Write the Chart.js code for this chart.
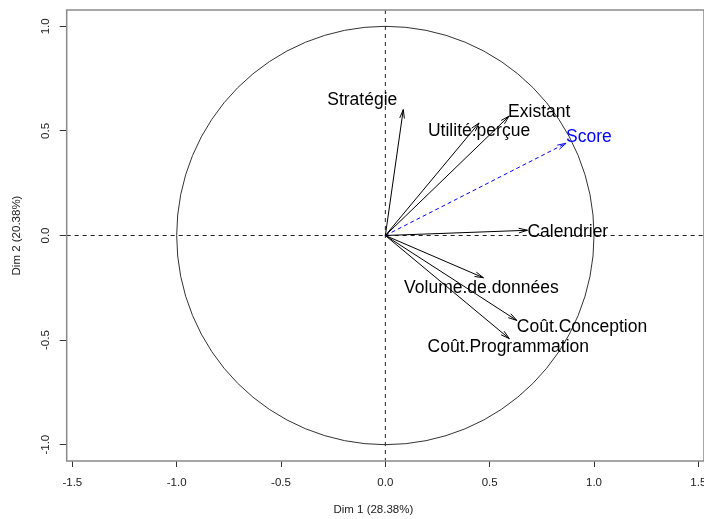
<!DOCTYPE html>
<html>
<head>
<meta charset="utf-8">
<script src="https://cdn.jsdelivr.net/npm/chart.js@4.4.1/dist/chart.umd.min.js"></script>
<style>
    html, body { margin: 0; padding: 0; background: #fff; overflow: hidden; }
    canvas { display: block; }
</style>
</head>
<body>
<canvas id="pcaCircle" width="720" height="519"></canvas>
<script>
// variables actives (coordonnées sur Dim 1 / Dim 2)
const variables = ["Stratégie", "Utilité.perçue", "Existant", "Calendrier", "Volume.de.données", "Coût.Conception", "Coût.Programmation"];
const dim1 = [0.086, 0.449, 0.593, 0.681, 0.470, 0.630, 0.594];
const dim2 = [0.602, 0.538, 0.571, 0.025, -0.202, -0.406, -0.493];

// variable supplémentaire
const supVariables = ["Score"];
const supDim1 = [0.866];
const supDim2 = [0.441];

const xTicks = [-1.5, -1.0, -0.5, 0.0, 0.5, 1.0, 1.5];
const yTicks = [-1.0, -0.5, 0.0, 0.5, 1.0];
const xTitle = "Dim 1 (28.38%)";
const yTitle = "Dim 2 (20.38%)";

// placement des étiquettes (pixels par rapport à la flèche)
const labelStyle = {
    "Stratégie": { align: "right", dx: -6, dy: -9 },
    "Utilité.perçue": { align: "center", dx: 0, dy: 8 },
    "Existant": { align: "left", dx: -1, dy: -4 },
    "Calendrier": { align: "left", dx: 0, dy: 2 },
    "Volume.de.données": { align: "center", dx: -2, dy: 10 },
    "Coût.Conception": { align: "left", dx: 0, dy: 7 },
    "Coût.Programmation": { align: "center", dx: -1, dy: 9 },
    "Score": { align: "left", dx: 0, dy: -6 }
};

const FONT = "'Liberation Sans', Arial, sans-serif";

const datasets = [];
variables.forEach((name, i) => {
    datasets.push({
        label: name,
        data: [{ x: 0, y: 0 }, { x: dim1[i], y: dim2[i] }],
        borderColor: "#000",
        borderWidth: 1,
        showLine: true,
        pointRadius: 0,
        textColor: "#000"
    });
});
supVariables.forEach((name, i) => {
    datasets.push({
        label: name,
        data: [{ x: 0, y: 0 }, { x: supDim1[i], y: supDim2[i] }],
        borderColor: "#0000ff",
        borderWidth: 1,
        borderDash: [4, 3],
        showLine: true,
        pointRadius: 0,
        textColor: "#0000ff"
    });
});

// cercle + axes en pointillés
const circlePlugin = {
    id: "circle",
    beforeDatasetsDraw(chart) {
        const { ctx, chartArea: a, scales: { x, y } } = chart;
        const cx = x.getPixelForValue(0);
        const cy = y.getPixelForValue(0);
        const rx = x.getPixelForValue(1) - cx;
        const ry = cy - y.getPixelForValue(1);
        ctx.save();
        ctx.strokeStyle = "#333";
        ctx.lineWidth = 1;
        ctx.beginPath();
        ctx.ellipse(cx, cy, rx, ry, 0, 0, Math.PI * 2);
        ctx.stroke();

        ctx.strokeStyle = "#222";
        ctx.setLineDash([4, 4]);
        ctx.beginPath();
        ctx.moveTo(a.left, cy);
        ctx.lineTo(a.right, cy);
        ctx.moveTo(cx, a.top);
        ctx.lineTo(cx, a.bottom);
        ctx.stroke();
        ctx.restore();
    }
};

// pointes de flèche et noms des variables
const arrowPlugin = {
    id: "arrows",
    afterDatasetsDraw(chart) {
        const ctx = chart.ctx;
        ctx.save();
        chart.data.datasets.forEach((ds, i) => {
            const pts = chart.getDatasetMeta(i).data;
            const p0 = pts[0], p1 = pts[1];
            const ang = Math.atan2(p1.y - p0.y, p1.x - p0.x);
            const len = 9, wing = 15 * Math.PI / 180;
            ctx.strokeStyle = ds.borderColor;
            ctx.lineWidth = 1;
            ctx.setLineDash([]);
            ctx.beginPath();
            ctx.moveTo(p1.x - len * Math.cos(ang - wing), p1.y - len * Math.sin(ang - wing));
            ctx.lineTo(p1.x, p1.y);
            ctx.lineTo(p1.x - len * Math.cos(ang + wing), p1.y - len * Math.sin(ang + wing));
            ctx.stroke();

            const st = labelStyle[ds.label];
            ctx.font = "17.5px " + FONT;
            ctx.fillStyle = ds.textColor;
            ctx.textAlign = st.align;
            ctx.textBaseline = "middle";
            ctx.fillText(ds.label, p1.x + st.dx, p1.y + st.dy);
        });
        ctx.restore();
    }
};

// cadre, étiquettes des graduations et titres des axes
const framePlugin = {
    id: "frame",
    afterDraw(chart) {
        const { ctx, chartArea: a, scales: { x, y } } = chart;
        ctx.save();
        ctx.strokeStyle = "#8a8a8a";
        ctx.lineWidth = 1.5;
        ctx.strokeRect(a.left, a.top, a.right - a.left, a.bottom - a.top);

        ctx.fillStyle = "#222";
        ctx.font = "11.5px " + FONT;
        ctx.textAlign = "center";
        ctx.textBaseline = "middle";
        xTicks.forEach(v => {
            ctx.fillText(v.toFixed(1), x.getPixelForValue(v), a.bottom + 22);
        });
        ctx.fillText(xTitle, (a.left + a.right) / 2 - 12, a.bottom + 49);

        yTicks.forEach(v => {
            ctx.save();
            ctx.translate(a.left - 21, y.getPixelForValue(v));
            ctx.rotate(-Math.PI / 2);
            ctx.fillText(v.toFixed(1), 0, 0);
            ctx.restore();
        });
        ctx.translate(a.left - 50, (a.top + a.bottom) / 2);
        ctx.rotate(-Math.PI / 2);
        ctx.fillText(yTitle, 0, 0);
        ctx.restore();
    }
};

new Chart(document.getElementById("pcaCircle"), {
    type: "scatter",
    data: { datasets: datasets },
    options: {
        responsive: false,
        animation: false,
        layout: { padding: { top: 10, right: 16, left: 0, bottom: 0 } },
        scales: {
            x: {
                type: "linear",
                min: -1.527,
                max: 1.527,
                afterBuildTicks: s => { s.ticks = xTicks.map(v => ({ value: v })); },
                afterFit: s => { s.height = 58; },
                ticks: { display: false },
                border: { display: false },
                grid: { drawOnChartArea: false, drawTicks: true, tickLength: 6, color: "#333" }
            },
            y: {
                type: "linear",
                min: -1.078,
                max: 1.078,
                afterBuildTicks: s => { s.ticks = yTicks.map(v => ({ value: v })); },
                afterFit: s => { s.width = 66.7; },
                ticks: { display: false },
                border: { display: false },
                grid: { drawOnChartArea: false, drawTicks: true, tickLength: 7, color: "#333" }
            }
        },
        plugins: {
            legend: { display: false },
            tooltip: { enabled: false }
        }
    },
    plugins: [circlePlugin, arrowPlugin, framePlugin]
});
</script>
</body>
</html>
